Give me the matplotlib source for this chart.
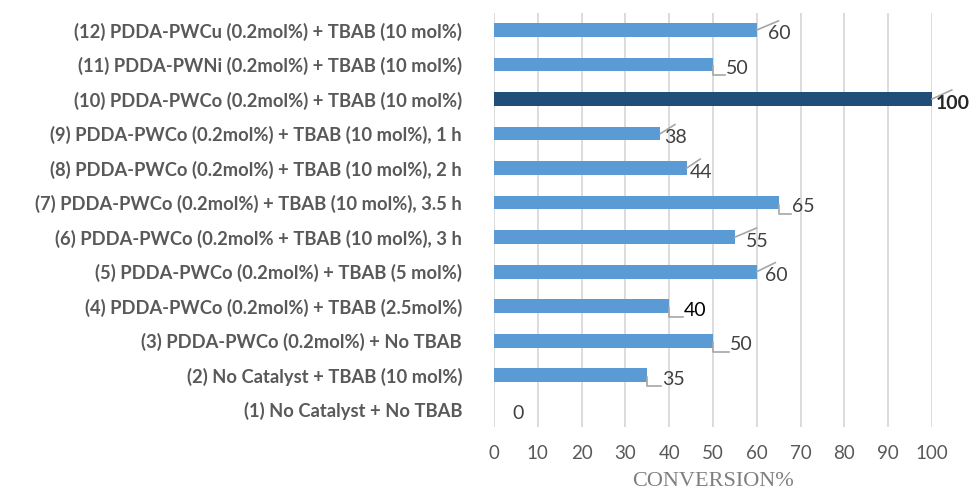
import numpy as np
import matplotlib.pyplot as plt

# conversion results, bottom row first
conditions = [
    "(1) No Catalyst + No TBAB",
    "(2) No Catalyst + TBAB (10 mol%)",
    "(3) PDDA-PWCo (0.2mol%) + No TBAB",
    "(4) PDDA-PWCo (0.2mol%) + TBAB (2.5mol%)",
    "(5) PDDA-PWCo (0.2mol%) + TBAB (5 mol%)",
    "(6) PDDA-PWCo (0.2mol% + TBAB (10 mol%), 3 h",
    "(7) PDDA-PWCo (0.2mol%) + TBAB (10 mol%), 3.5 h",
    "(8) PDDA-PWCo (0.2mol%) + TBAB (10 mol%), 2 h",
    "(9) PDDA-PWCo (0.2mol%) + TBAB (10 mol%), 1 h",
    "(10) PDDA-PWCo (0.2mol%) + TBAB (10 mol%)",
    "(11) PDDA-PWNi (0.2mol%) + TBAB (10 mol%)",
    "(12) PDDA-PWCu (0.2mol%) + TBAB (10 mol%)",
]
conversion = [0, 35, 50, 40, 60, 55, 65, 44, 38, 100, 50, 60]
best = "(10) PDDA-PWCo (0.2mol%) + TBAB (10 mol%)"

# data label placement: leader shape and gap (px) between bar end and text
leader = [None, "elbow", "elbow", "elbow", "diag", "diag",
          "elbow", "diag", "diag", "diag", "elbow", "diag"]
label_gap = [18, 15, 17, 15, 8, 11, 13, 3, 4, 4, 13, 11]

FONT = "Lato"
W, H, DPI = 970, 497, 100
fig = plt.figure(figsize=(W / DPI, H / DPI), dpi=DPI)
ax_l, ax_r, ax_t, ax_b = 494, 932, 12.7, 427
ax = fig.add_axes([ax_l / W, 1 - ax_b / H, (ax_r - ax_l) / W, (ax_b - ax_t) / H])

y = np.arange(len(conditions))
colors = ["#1F4E79" if c == best else "#5B9BD5" for c in conditions]
ax.barh(y, conversion, height=0.4, color=colors, zorder=3)

ax.set_xlim(0, 100)
ax.set_ylim(-0.5, len(conditions) - 0.5)
ax.set_xticks(np.arange(0, 101, 10))
ax.set_yticks(y)
ax.set_yticklabels(conditions, fontfamily=FONT, fontweight="bold",
                   fontsize=13.2, color="#595959")
for lab in ax.get_xticklabels():
    lab.set_fontfamily(FONT)
ax.tick_params(axis="x", length=0, pad=13, labelsize=13.5, labelcolor="#595959")
ax.tick_params(axis="y", length=0, pad=23)
ax.grid(axis="x", color="#D9D9D9", linewidth=1.3, zorder=0)
for s in ax.spines.values():
    s.set_visible(False)

ax.set_xlabel("CONVERSION%", fontfamily="Liberation Serif", fontsize=16,
              color="#7F7F7F", labelpad=7)

# pixel -> data scale for the data labels
px_x = (ax_r - ax_l) / 100
px_y = (ax_b - ax_t) / len(conditions)

for i, (v, kind, gap) in enumerate(zip(conversion, leader, label_gap)):
    tx = v + gap / px_x
    ty = i - 4 / px_y
    txt = str(v)
    color, weight = "#404040", "normal"
    if v == 40:
        color = "#000000"
    if conditions[i] == best:
        color, weight = "#262626", "bold"
    ax.text(tx, ty, txt, ha="left", va="center", fontsize=14, fontfamily=FONT,
            color=color, fontweight=weight, clip_on=False, zorder=5)
    half_w = (len(txt) * 10.5 / 2) / px_x
    if kind == "diag":
        ax.plot([v, tx + half_w], [i, ty + 13 / px_y], color="#A6A6A6",
                linewidth=1.2, clip_on=False, zorder=4)
    elif kind == "elbow":
        yb = ty - 7 / px_y
        ax.plot([v, v, tx - 1 / px_x], [i - 2 / px_y, yb, yb], color="#A6A6A6",
                linewidth=1.2, clip_on=False, zorder=4)

fig.savefig("out.png", dpi=DPI)
